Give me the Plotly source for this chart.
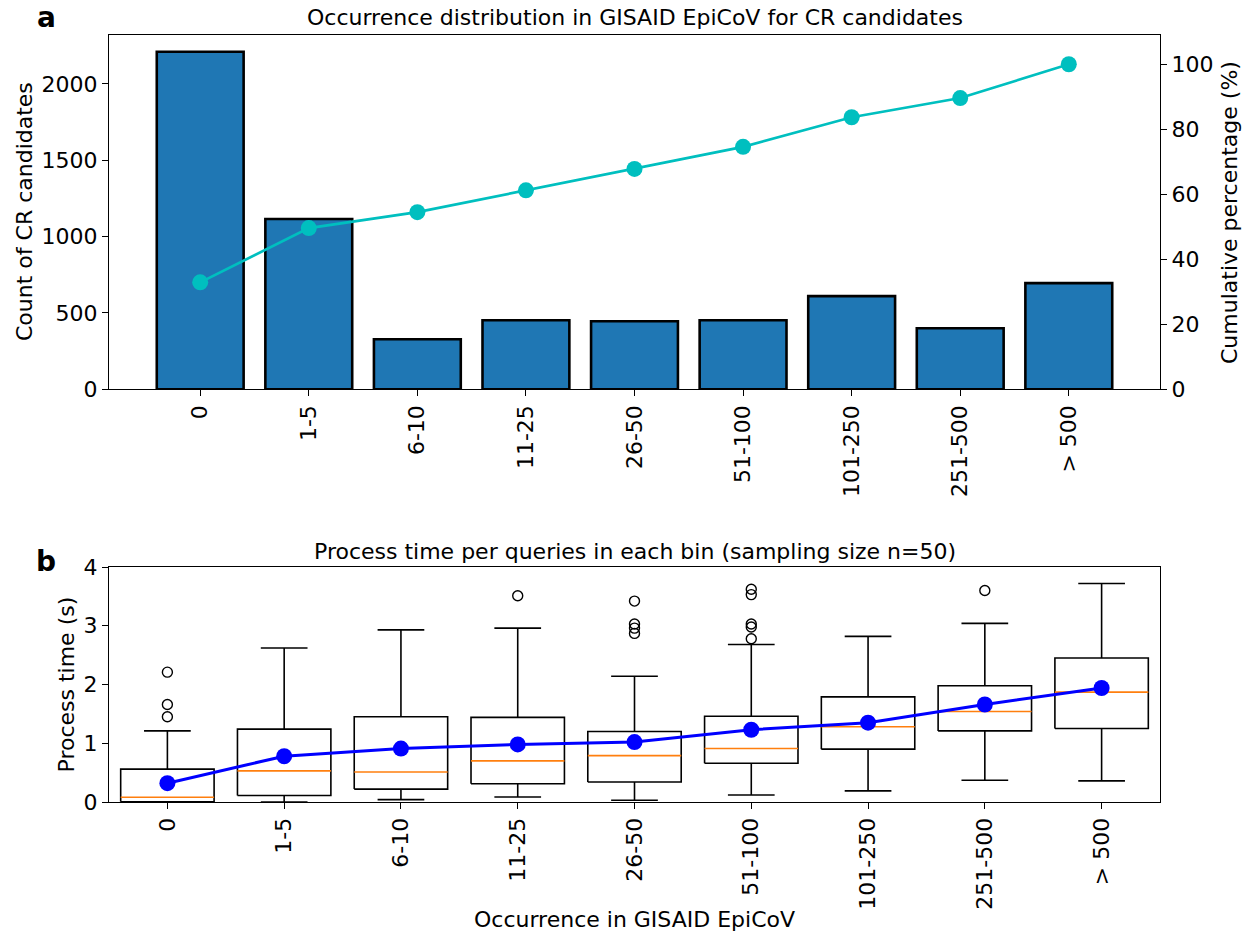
import plotly.graph_objects as go

# ---- data -------------------------------------------------------------
bins = ["0", "1-5", "6-10", "11-25", "26-50", "51-100", "101-250", "251-500", "> 500"]

# panel a: number of CR candidates per occurrence bin and cumulative share
counts = [2210, 1115, 328, 452, 446, 452, 610, 400, 695]
cum_pct = [32.9, 49.6, 54.5, 61.2, 67.8, 74.6, 83.7, 89.6, 100.0]

# panel b: process-time box statistics per bin (seconds)
whisker_low = [0.0, 0.0, 0.04, 0.085, 0.03, 0.12, 0.19, 0.37, 0.36]
q1 = [0.005, 0.11, 0.22, 0.31, 0.34, 0.66, 0.90, 1.21, 1.25]
median = [0.08, 0.53, 0.51, 0.70, 0.79, 0.91, 1.28, 1.54, 1.87]
q3 = [0.56, 1.24, 1.45, 1.44, 1.20, 1.46, 1.79, 1.98, 2.45]
whisker_high = [1.21, 2.62, 2.93, 2.96, 2.14, 2.68, 2.82, 3.04, 3.72]
mean_time = [0.32, 0.78, 0.91, 0.98, 1.02, 1.23, 1.35, 1.66, 1.94]
outliers = [
    [2.21, 1.66, 1.45],
    [],
    [],
    [3.51],
    [3.42, 3.03, 2.96, 2.87],
    [3.62, 3.53, 3.03, 2.98, 2.78],
    [],
    [3.60],
    [],
]

# ---- geometry ---------------------------------------------------------
W, H = 1249, 936
ML, MR, MT, MB = 109, 89, 35, 134
PW = W - ML - MR
PH = H - MT - MB


def px_x(px):
    return (px - ML) / PW


def px_y(py):
    return (H - MB - py) / PH


FONT = "DejaVu Sans"
FS = 22
BOX_HALF = 0.4
CAP_HALF = 0.2

pos = list(range(len(bins)))

fig = go.Figure()

# ---- panel a ----------------------------------------------------------
fig.add_trace(go.Bar(
    x=pos, y=counts, width=0.8,
    marker=dict(color="#1f77b4", line=dict(color="black", width=2.6)),
    xaxis="x", yaxis="y", showlegend=False, hoverinfo="skip",
))
fig.add_trace(go.Scatter(
    x=pos, y=cum_pct, mode="lines+markers",
    line=dict(color="#00bfbf", width=2.7),
    marker=dict(size=16, color="#00bfbf"),
    xaxis="x", yaxis="y2", showlegend=False, cliponaxis=False,
))

# ---- panel b: boxplots built from the statistics ----------------------
box_x, box_y = [], []
wh_x, wh_y = [], []
med_x, med_y = [], []
out_x, out_y = [], []
for i in pos:
    box_x += [i - BOX_HALF, i + BOX_HALF, i + BOX_HALF, i - BOX_HALF, i - BOX_HALF, None]
    box_y += [q1[i], q1[i], q3[i], q3[i], q1[i], None]
    wh_x += [i, i, None, i, i, None,
             i - CAP_HALF, i + CAP_HALF, None, i - CAP_HALF, i + CAP_HALF, None]
    wh_y += [q1[i], whisker_low[i], None, q3[i], whisker_high[i], None,
             whisker_low[i], whisker_low[i], None, whisker_high[i], whisker_high[i], None]
    med_x += [i - BOX_HALF, i + BOX_HALF, None]
    med_y += [median[i], median[i], None]
    for v in outliers[i]:
        out_x.append(i)
        out_y.append(v)

fig.add_trace(go.Scatter(x=wh_x, y=wh_y, mode="lines",
                         line=dict(color="black", width=1.6),
                         xaxis="x2", yaxis="y3", showlegend=False))
fig.add_trace(go.Scatter(x=box_x, y=box_y, mode="lines",
                         line=dict(color="black", width=1.6),
                         xaxis="x2", yaxis="y3", showlegend=False))
fig.add_trace(go.Scatter(x=med_x, y=med_y, mode="lines",
                         line=dict(color="#ff7f0e", width=1.6),
                         xaxis="x2", yaxis="y3", showlegend=False))
fig.add_trace(go.Scatter(x=out_x, y=out_y, mode="markers",
                         marker=dict(symbol="circle-open", size=10, color="black",
                                     line=dict(width=1.4, color="black")),
                         xaxis="x2", yaxis="y3", showlegend=False))
fig.add_trace(go.Scatter(x=pos, y=mean_time, mode="lines+markers",
                         line=dict(color="blue", width=3),
                         marker=dict(size=16, color="blue"),
                         xaxis="x2", yaxis="y3", showlegend=False))

# ---- axes -------------------------------------------------------------
axis_common = dict(
    showline=True, linecolor="black", linewidth=1.1,
    ticks="outside", ticklen=6, tickwidth=1.1, tickcolor="black",
    showgrid=False, zeroline=False,
    tickfont=dict(family=FONT, size=FS, color="black"),
)

top_bottom = 1 - (389.3 - MT) / PH
bottom_top = (H - MB - 567) / PH

fig.update_layout(
    width=W, height=H,
    margin=dict(l=ML, r=MR, t=MT, b=MB),
    plot_bgcolor="white", paper_bgcolor="white",
    showlegend=False,
    xaxis=dict(domain=[0, 1], anchor="y", range=[-0.84, 8.84],
               tickvals=pos, ticktext=bins, tickangle=-90, mirror=True,
               **axis_common),
    yaxis=dict(domain=[top_bottom, 1], anchor="x", range=[0, 2320],
               tickvals=[0, 500, 1000, 1500, 2000], **axis_common),
    yaxis2=dict(overlaying="y", anchor="x", side="right", range=[0, 109],
                tickvals=[0, 20, 40, 60, 80, 100], **axis_common),
    xaxis2=dict(domain=[0, 1], anchor="y3", range=[-0.5, 8.5],
                tickvals=pos, ticktext=bins, tickangle=-90, mirror=True,
                **axis_common),
    yaxis3=dict(domain=[0, bottom_top], anchor="x2", range=[0, 4],
                tickvals=[0, 1, 2, 3, 4], mirror=True, **axis_common),
)

# ---- titles and labels ------------------------------------------------
def label(text, x, y, size=FS, angle=0, bold=False):
    fig.add_annotation(
        text=f"<b>{text}</b>" if bold else text,
        x=px_x(x), y=px_y(y), xref="paper", yref="paper",
        xanchor="center", yanchor="middle", showarrow=False,
        textangle=angle, font=dict(family=FONT, size=size, color="black"),
    )


label("Occurrence distribution in GISAID EpiCoV for CR candidates", 634.5, 18)
label("Process time per queries in each bin (sampling size n=50)", 634.5, 551)
label("Count of CR candidates", 25, 212, angle=-90)
label("Cumulative percentage (%)", 1230, 212, angle=-90)
label("Process time (s)", 66, 684.5, angle=-90)
label("Occurrence in GISAID EpiCoV", 634.5, 920)
label("a", 46, 18, size=28, bold=True)
label("b", 46, 561, size=28, bold=True)

fig.write_html("out.html")
